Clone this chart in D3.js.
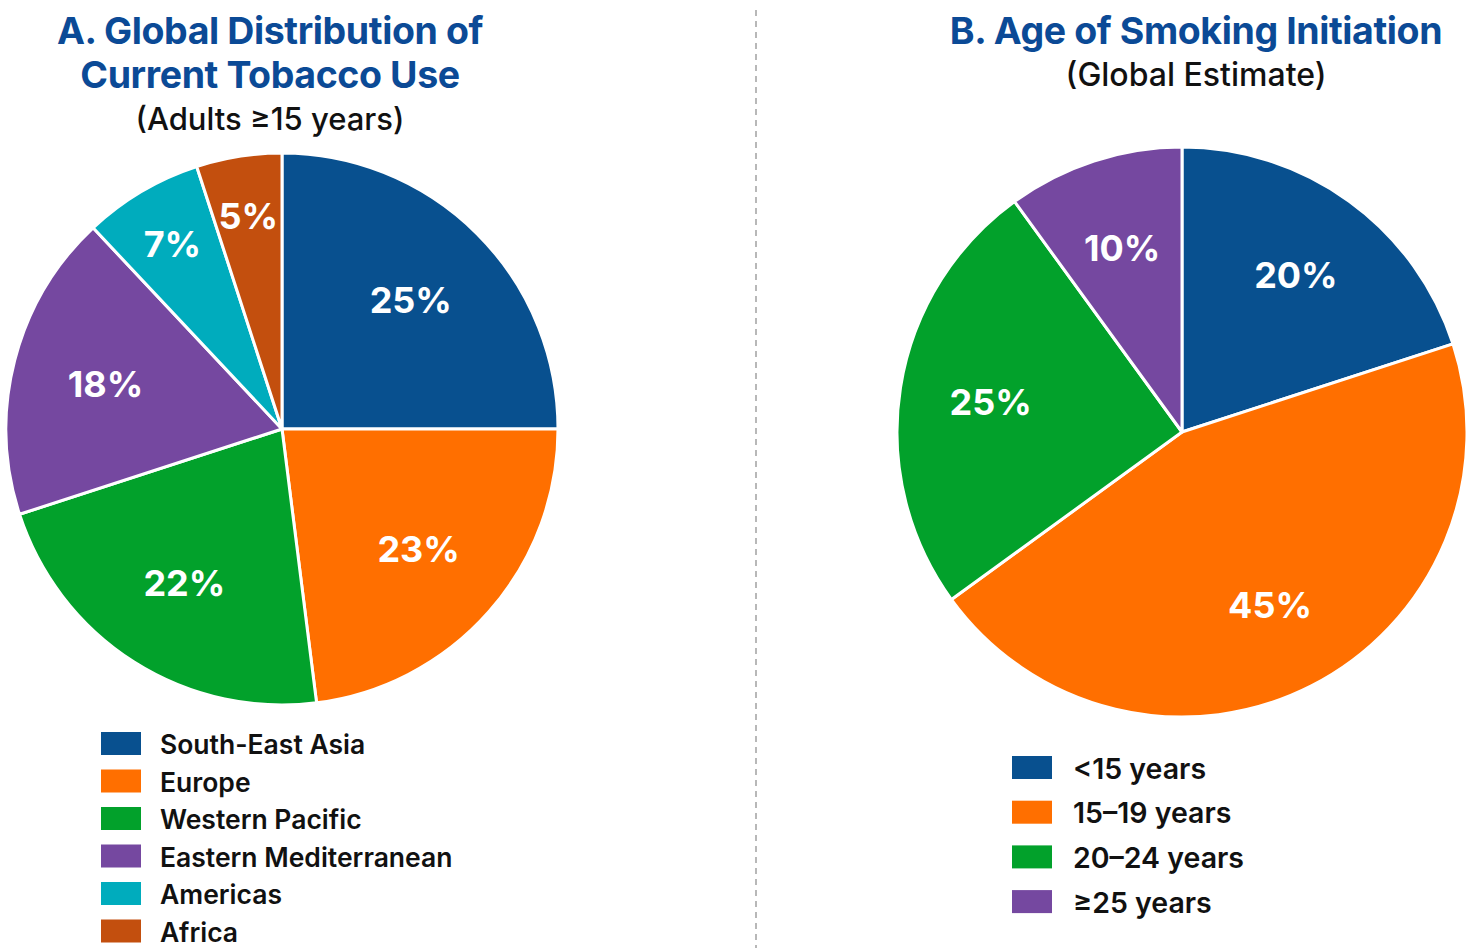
<!DOCTYPE html>
<html><head><meta charset="utf-8">
<script src="https://cdn.jsdelivr.net/npm/d3@7"></script>
<style>
html,body{margin:0;padding:0;background:#fff;}
svg{display:block;font-family:Inter,"Noto Sans",sans-serif;}
</style></head>
<body>
<svg id="c" width="1478" height="948"></svg>
<script>
const regions = ["South-East Asia","Europe","Western Pacific","Eastern Mediterranean","Americas","Africa"];
const regionShare = [25,23,22,18,7,5];
const regionColors = ["#08508f","#ff6f00","#02a12b","#7548a0","#00acbd","#c34f0e"];

const ageGroups = ["<15 years","15\u201319 years","20\u201324 years","\u226525 years"];
const ageShare = [20,45,25,10];
const ageColors = ["#08508f","#ff6f00","#02a12b","#7548a0"];

const titleA = ["A. Global Distribution of","Current Tobacco Use"];
const subA = "(Adults \u226515 years)";
const titleB = ["B. Age of Smoking Initiation"];
const subB = "(Global Estimate)";

const svg = d3.select("#c");

// divider
svg.append("line").attr("x1",756).attr("x2",756).attr("y1",10).attr("y2",948)
  .attr("stroke","#b8b8b8").attr("stroke-width",2).attr("stroke-dasharray","6,5");

function panel(o){
  const g = svg.append("g");
  o.title.forEach((t,i)=>{
    g.append("text").attr("x",o.tx).attr("y",o.ty+i*44).attr("text-anchor","middle")
      .attr("dominant-baseline","central")
      .attr("font-size",37.5).attr("font-weight",700).attr("fill","#0b4a96").attr("letter-spacing","-0.4").text(t);
  });
  g.append("text").attr("x",o.tx).attr("y",o.ty+o.title.length*44).attr("text-anchor","middle")
    .attr("dominant-baseline","central")
    .attr("font-size",o.subSize).attr("font-weight",500).attr("fill","#111").text(o.sub);

  const pie = d3.pie().sort(null).value(d=>d.v);
  const data = pie(o.labels.map((l,i)=>({l, v:o.values[i], c:o.colors[i]})));
  const arc = d3.arc().innerRadius(0).outerRadius(o.r);
  const labR = d => o.r*(d.data.v < 10 ? 0.78 : o.lr);
  const pg = g.append("g").attr("transform",`translate(${o.cx},${o.cy})`);
  pg.selectAll("path").data(data).join("path").attr("d",arc)
    .attr("fill",d=>d.data.c).attr("stroke","#fff").attr("stroke-width",3).attr("stroke-linejoin","round");
  pg.selectAll("text").data(data).join("text")
    .attr("transform",d=>{const a=(d.startAngle+d.endAngle)/2, r=labR(d); return `translate(${r*Math.sin(a)},${-r*Math.cos(a)})`;})
    .attr("text-anchor","middle").attr("dominant-baseline","central")
    .attr("font-size",36).attr("font-weight",700).attr("fill","#fff").text(d=>d.data.v+"%");

  const lg = g.append("g").attr("transform",`translate(${o.lx},${o.ly})`);
  const rows = lg.selectAll("g").data(o.labels).join("g").attr("transform",(d,i)=>`translate(0,${i*o.ls})`);
  rows.append("rect").attr("x",0).attr("y",-11).attr("width",40).attr("height",23).attr("fill",(d,i)=>o.colors[i]);
  rows.append("text").attr("x",o.ltx).attr("y",1).attr("dominant-baseline","central")
    .attr("font-size",o.lfs).attr("font-weight",600).attr("fill","#111").text(d=>d);
}

panel({title:titleA, sub:subA, subSize:31, tx:270, ty:30, labels:regions, values:regionShare, colors:regionColors,
  cx:282, cy:429, r:276, lr:0.66, lx:101, ly:743, ls:37.5, ltx:59, lfs:26.5});
panel({title:titleB, sub:subB, subSize:32, tx:1196, ty:30, labels:ageGroups, values:ageShare, colors:ageColors,
  cx:1182, cy:432, r:285, lr:0.68, lx:1012, ly:767, ls:44.7, ltx:61, lfs:28.5});
</script>
</body></html>
